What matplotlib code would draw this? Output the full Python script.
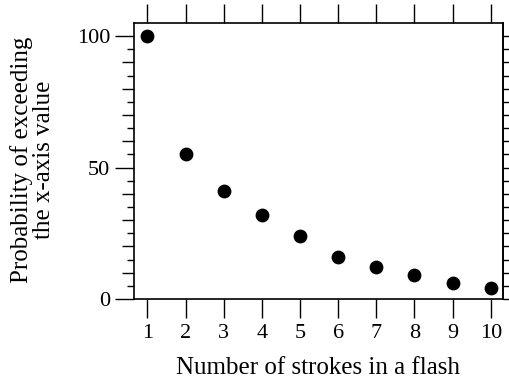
import matplotlib
matplotlib.use("Agg")
import matplotlib.pyplot as plt
import numpy as np

strokes = [1, 2, 3, 4, 5, 6, 7, 8, 9, 10]
prob_exceed = [100, 55, 41, 32, 24, 16, 12, 9, 6, 4]

y_major = [0, 50, 100]
y_tens = [10, 20, 30, 40, 60, 70, 80, 90]
y_fives = [5, 15, 25, 35, 45, 55, 65, 75, 85, 95]
y_all = list(range(0, 105, 5))

plt.rcParams['font.family'] = ['Liberation Serif', 'DejaVu Serif']
plt.rcParams['font.size'] = 16

fig = plt.figure(figsize=(5.09, 3.84), dpi=100)
ax = fig.add_axes([0.2633, 0.2214, 0.7249, 0.7187])

ax.scatter(strokes, prob_exceed, s=80, color='black', zorder=3, clip_on=False)

ax.set_xlim(0.65, 10.32)
ax.set_ylim(0, 105)

ax.set_xticks(strokes)
ax.tick_params(axis='x', which='major', direction='out', length=14, width=1,
               top=True, pad=4)
ax.set_yticks(y_major)
ax.set_yticks(y_fives, minor=True)
ax.tick_params(axis='y', which='major', direction='out', length=14, width=1, pad=3)
ax.tick_params(axis='y', which='minor', direction='out', length=5, width=1)

# medium ticks at multiples of ten on the left
sec_l = ax.secondary_yaxis('left')
sec_l.set_yticks(y_tens)
sec_l.set_yticklabels([])
sec_l.tick_params(direction='out', length=9, width=1)
sec_l.spines['left'].set_visible(False)

# short ticks on the right
sec_r = ax.secondary_yaxis('right')
sec_r.set_yticks(y_all)
sec_r.set_yticklabels([])
sec_r.tick_params(direction='out', length=6, width=1)
sec_r.spines['right'].set_linewidth(1.2)

for sp in ax.spines.values():
    sp.set_linewidth(1.2)

fig.text(0.625, 0.014, 'Number of strokes in a flash', ha='center', va='bottom',
         fontsize=18)
fig.text(0.064, 0.583, 'Probability of exceeding\nthe x-axis value', rotation=90,
         ha='center', va='center', multialignment='center', linespacing=1.0,
         fontsize=18)

fig.savefig('out.png', dpi=100)
